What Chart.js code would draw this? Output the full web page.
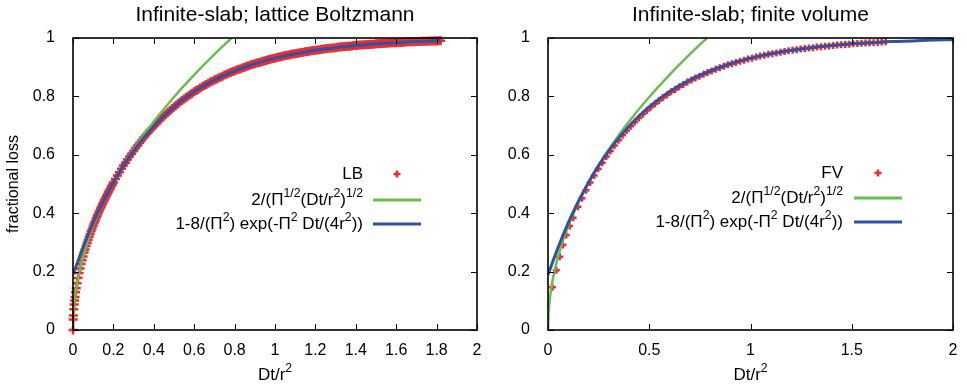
<!DOCTYPE html>
<html>
<head>
<meta charset="utf-8">
<script src="https://cdn.jsdelivr.net/npm/chart.js@4.4.0/dist/chart.umd.min.js"></script>
<style>
html, body { margin: 0; padding: 0; background: #fff; width: 967px; height: 386px; overflow: hidden; }
canvas { position: absolute; top: 0; }
#lbChart { left: 0; }
#fvChart { left: 480px; }
</style>
</head>
<body>
<canvas id="lbChart" width="490" height="386"></canvas>
<canvas id="fvChart" width="487" height="386"></canvas>
<script>
// lattice Boltzmann points (left panel)
const lbT = [0, 0.001, 0.002, 0.004, 0.006, 0.008, 0.01, 0.013, 0.016, 0.02, 0.025, 0.03, 0.035, 0.04,
  0.045, 0.05, 0.055, 0.06, 0.065, 0.07, 0.075, 0.08, 0.085, 0.09, 0.095, 0.10, 0.105, 0.11, 0.115, 0.12,
  0.125, 0.13, 0.135, 0.14, 0.145, 0.15, 0.155, 0.16, 0.165, 0.17, 0.175, 0.18, 0.185, 0.19, 0.195, 0.20,
  0.21, 0.22, 0.23, 0.24, 0.25, 0.26, 0.27, 0.28, 0.29, 0.30,
  0.31, 0.32, 0.33, 0.34, 0.35, 0.36, 0.37, 0.38, 0.39, 0.40, 0.41, 0.42, 0.43, 0.44, 0.45,
  0.46, 0.47, 0.48, 0.49, 0.50, 0.51, 0.52, 0.53, 0.54, 0.55, 0.56, 0.57, 0.58, 0.59, 0.60,
  0.61, 0.62, 0.63, 0.64, 0.65, 0.66, 0.67, 0.68, 0.69, 0.70, 0.71, 0.72, 0.73, 0.74, 0.75,
  0.76, 0.77, 0.78, 0.79, 0.80, 0.81, 0.82, 0.83, 0.84, 0.85, 0.86, 0.87, 0.88, 0.89, 0.90,
  0.91, 0.92, 0.93, 0.94, 0.95, 0.96, 0.97, 0.98, 0.99, 1.00, 1.01, 1.02, 1.03, 1.04, 1.05,
  1.06, 1.07, 1.08, 1.09, 1.10, 1.11, 1.12, 1.13, 1.14, 1.15, 1.16, 1.17, 1.18, 1.19, 1.20,
  1.21, 1.22, 1.23, 1.24, 1.25, 1.26, 1.27, 1.28, 1.29, 1.30, 1.31, 1.32, 1.33, 1.34, 1.35,
  1.36, 1.37, 1.38, 1.39, 1.40, 1.41, 1.42, 1.43, 1.44, 1.45, 1.46, 1.47, 1.48, 1.49, 1.50,
  1.51, 1.52, 1.53, 1.54, 1.55, 1.56, 1.57, 1.58, 1.59, 1.60, 1.61, 1.62, 1.63, 1.64, 1.65,
  1.66, 1.67, 1.68, 1.69, 1.70, 1.71, 1.72, 1.73, 1.74, 1.75, 1.76, 1.77, 1.78, 1.79, 1.80,
  1.81, 1.82];
const lbY = [0, 0.036, 0.050, 0.071, 0.087, 0.101, 0.113, 0.129, 0.143, 0.160, 0.178, 0.195, 0.211, 0.226,
  0.239, 0.252, 0.265, 0.276, 0.288, 0.299, 0.309, 0.319, 0.329, 0.339, 0.348, 0.357, 0.366, 0.374, 0.383, 0.391,
  0.399, 0.407, 0.415, 0.422, 0.430, 0.437, 0.444, 0.451, 0.458, 0.465, 0.472, 0.479, 0.485, 0.492, 0.498, 0.505,
  0.517, 0.529, 0.540, 0.552, 0.563, 0.573, 0.584, 0.594, 0.604, 0.613,
  0.623, 0.632, 0.641, 0.650, 0.658, 0.667, 0.675, 0.683, 0.690, 0.698, 0.705, 0.712, 0.719, 0.726, 0.733,
  0.739, 0.746, 0.752, 0.758, 0.764, 0.770, 0.775, 0.781, 0.786, 0.791, 0.796, 0.801, 0.806, 0.811, 0.816,
  0.820, 0.824, 0.829, 0.833, 0.837, 0.841, 0.845, 0.849, 0.852, 0.856, 0.859, 0.863, 0.866, 0.869, 0.873,
  0.876, 0.879, 0.882, 0.885, 0.887, 0.890, 0.893, 0.895, 0.898, 0.900, 0.903, 0.905, 0.908, 0.910, 0.912,
  0.914, 0.916, 0.918, 0.920, 0.922, 0.924, 0.926, 0.928, 0.930, 0.931, 0.933, 0.935, 0.936, 0.938, 0.939,
  0.941, 0.942, 0.944, 0.945, 0.946, 0.948, 0.949, 0.950, 0.951, 0.953, 0.954, 0.955, 0.956, 0.957, 0.958,
  0.959, 0.960, 0.961, 0.962, 0.963, 0.964, 0.965, 0.966, 0.966, 0.967, 0.968, 0.969, 0.970, 0.970, 0.971,
  0.972, 0.972, 0.973, 0.974, 0.974, 0.975, 0.976, 0.976, 0.977, 0.977, 0.978, 0.978, 0.979, 0.979, 0.980,
  0.980, 0.981, 0.981, 0.982, 0.982, 0.983, 0.983, 0.984, 0.984, 0.984, 0.985, 0.985, 0.985, 0.986, 0.986,
  0.987, 0.987, 0.987, 0.987, 0.988, 0.988, 0.988, 0.989, 0.989, 0.989, 0.989, 0.990, 0.990, 0.990, 0.990,
  0.991, 0.991];

// finite volume points (right panel)
const fvT = [0.022, 0.041, 0.058, 0.074, 0.090, 0.107, 0.124,
  0.148, 0.168, 0.188, 0.208, 0.228, 0.248, 0.268, 0.288, 0.308,
  0.328, 0.348, 0.368, 0.388, 0.408, 0.428, 0.448, 0.468, 0.488, 0.508, 0.528, 0.548, 0.568, 0.588, 0.608,
  0.628, 0.648, 0.668, 0.688, 0.708, 0.728, 0.748, 0.768, 0.788, 0.808, 0.828, 0.848, 0.868, 0.888, 0.908,
  0.928, 0.948, 0.968, 0.988, 1.008, 1.028, 1.048, 1.068, 1.088, 1.108, 1.128, 1.148, 1.168, 1.188, 1.208,
  1.228, 1.248, 1.268, 1.288, 1.308, 1.328, 1.348, 1.368, 1.388, 1.408, 1.428, 1.448, 1.468, 1.488, 1.508,
  1.528, 1.548, 1.568, 1.588, 1.608, 1.628, 1.648, 1.668];
const fvY = [0.146, 0.205, 0.251, 0.291, 0.325, 0.356, 0.384,
  0.422, 0.451, 0.479, 0.505, 0.529, 0.552, 0.573, 0.594, 0.613,
  0.632, 0.650, 0.667, 0.683, 0.698, 0.712, 0.726, 0.739, 0.752, 0.764, 0.775, 0.786, 0.796, 0.806, 0.816,
  0.824, 0.833, 0.841, 0.849, 0.856, 0.863, 0.869, 0.876, 0.882, 0.887, 0.893, 0.898, 0.903, 0.908, 0.912,
  0.916, 0.920, 0.924, 0.928, 0.931, 0.935, 0.938, 0.941, 0.944, 0.946, 0.949, 0.951, 0.954, 0.956, 0.958,
  0.960, 0.962, 0.964, 0.966, 0.967, 0.969, 0.970, 0.972, 0.973, 0.974, 0.976, 0.977, 0.978, 0.979, 0.980,
  0.981, 0.982, 0.983, 0.984, 0.984, 0.985, 0.986, 0.987];

// short-time curve 2/(pi^1/2 (Dt/r^2)^1/2), both panels
const sqT = [0, 0.002, 0.005, 0.01, 0.02, 0.03, 0.05, 0.075, 0.1, 0.15, 0.2, 0.25, 0.3, 0.35, 0.4, 0.5, 0.6, 0.7, 0.785];
const sqY = [0, 0.050, 0.080, 0.113, 0.160, 0.195, 0.252, 0.309, 0.357, 0.437, 0.505, 0.564, 0.618, 0.668, 0.714, 0.798, 0.874, 0.944, 1.0];

// long-time curve 1-8/pi^2 exp(...)
const expLbT = [0, 0.05, 0.1, 0.15, 0.2, 0.25, 0.3, 0.35, 0.4, 0.5, 0.6, 0.7, 0.8, 0.9, 1.0, 1.1, 1.2, 1.3, 1.4, 1.5, 1.6, 1.7, 1.82];
const expLbY = [0.189, 0.283, 0.367, 0.440, 0.505, 0.563, 0.613, 0.658, 0.698, 0.764, 0.816, 0.856, 0.887, 0.912, 0.931, 0.946, 0.958, 0.967, 0.974, 0.980, 0.984, 0.988, 0.991];
const expFvT = [0, 0.05, 0.1, 0.15, 0.2, 0.25, 0.3, 0.35, 0.4, 0.5, 0.6, 0.7, 0.8, 0.9, 1.0, 1.1, 1.2, 1.3, 1.4, 1.5, 1.6, 1.7, 1.8, 1.9, 2.0];
const expFvY = [0.189, 0.283, 0.367, 0.440, 0.505, 0.563, 0.613, 0.658, 0.698, 0.764, 0.816, 0.856, 0.887, 0.912, 0.931, 0.946, 0.958, 0.967, 0.974, 0.980, 0.984, 0.988, 0.990, 0.993, 0.994];

const lbXTicks = [0, 0.2, 0.4, 0.6, 0.8, 1, 1.2, 1.4, 1.6, 1.8, 2];
const fvXTicks = [0, 0.5, 1, 1.5, 2];
const yTicks = [0, 0.2, 0.4, 0.6, 0.8, 1];

const lbTitle = 'Infinite-slab; lattice Boltzmann';
const fvTitle = 'Infinite-slab; finite volume';
const xTitle = 'Dt/r^2';
const yTitle = 'fractional loss';
const lbLegend = ['LB', '2/(Π^{1/2}(Dt/r^2)^{1/2}', '1-8/(Π^2) exp(-Π^2 Dt/(4r^2))'];
const fvLegend = ['FV', '2/(Π^{1/2}(Dt/r^2)^{1/2}', '1-8/(Π^2) exp(-Π^2 Dt/(4r^2))'];

const FONT = "'Liberation Sans', Arial, sans-serif";
const RED = '#ee2a30';
const GREEN = '#6abd4b';
const BLUE = '#2f53a3';

Chart.defaults.font.family = FONT;
Chart.defaults.color = '#000';

function pts(xs, ys) {
    return xs.map((x, i) => ({ x: x, y: ys[i] }));
}

// split "a^{12}b^2" into normal / superscript pieces
function richParts(s) {
    const out = [];
    let buf = '';
    for (let i = 0; i < s.length; i++) {
        if (s[i] === '^') {
            if (buf) out.push({ t: buf, sup: false });
            buf = '';
            if (s[i + 1] === '{') {
                const end = s.indexOf('}', i);
                out.push({ t: s.slice(i + 2, end), sup: true });
                i = end;
            } else {
                out.push({ t: s[i + 1], sup: true });
                i++;
            }
        } else {
            buf += s[i];
        }
    }
    if (buf) out.push({ t: buf, sup: false });
    return out;
}

// align: 'right' -> x is right edge, 'center' -> x is middle
function drawRich(ctx, s, x, y, size, align) {
    const parts = richParts(s);
    let w = 0;
    parts.forEach(p => {
        ctx.font = (p.sup ? size * 0.72 : size) + 'px ' + FONT;
        p.w = ctx.measureText(p.t).width;
        w += p.w;
    });
    let cx = align === 'center' ? x - w / 2 : x - w;
    parts.forEach(p => {
        ctx.font = (p.sup ? size * 0.72 : size) + 'px ' + FONT;
        ctx.fillText(p.t, cx, p.sup ? y - size * 0.4 : y);
        cx += p.w;
    });
}

// gnuplot style frame with inward ticks on all sides
const frameTicks = {
    id: 'frameTicks',
    afterDatasetsDraw(chart) {
        const { ctx, chartArea: a, scales } = chart;
        const tl = 6;
        ctx.save();
        ctx.strokeStyle = '#000';
        ctx.lineWidth = 1;
        ctx.beginPath();
        scales.x.ticks.forEach(t => {
            const px = Math.round(scales.x.getPixelForValue(t.value)) + 0.5;
            ctx.moveTo(px, a.bottom); ctx.lineTo(px, a.bottom - tl);
            ctx.moveTo(px, a.top); ctx.lineTo(px, a.top + tl);
        });
        scales.y.ticks.forEach(t => {
            const py = Math.round(scales.y.getPixelForValue(t.value)) + 0.5;
            ctx.moveTo(a.left, py); ctx.lineTo(a.left + tl, py);
            ctx.moveTo(a.right, py); ctx.lineTo(a.right - tl, py);
        });
        ctx.stroke();
        ctx.lineWidth = 1.6;
        ctx.strokeRect(a.left, a.top, a.right - a.left, a.bottom - a.top);
        ctx.restore();
    }
};

// panel title, x axis title and key, drawn with real superscripts
const panelText = {
    id: 'panelText',
    afterDraw(chart, args, opts) {
        const { ctx, chartArea: a } = chart;
        const mid = (a.left + a.right) / 2;
        ctx.save();
        ctx.fillStyle = '#000';
        ctx.textBaseline = 'middle';
        ctx.textAlign = 'center';
        ctx.font = '21px ' + FONT;
        ctx.fillText(opts.title, mid, 15);

        ctx.textAlign = 'left';
        drawRich(ctx, xTitle, mid, 375, 17, 'center');

        const colors = [RED, GREEN, BLUE];
        opts.labels.forEach((lab, i) => {
            const y = opts.rows[i];
            drawRich(ctx, lab, opts.textRight, y, 17, 'right');
            if (i === 0) {
                const cx = (opts.lineX[0] + opts.lineX[1]) / 2;
                ctx.strokeStyle = RED;
                ctx.lineWidth = 2.5;
                ctx.beginPath();
                ctx.moveTo(cx - 3.5, y); ctx.lineTo(cx + 3.5, y);
                ctx.moveTo(cx, y - 3.5); ctx.lineTo(cx, y + 3.5);
                ctx.stroke();
            } else {
                ctx.strokeStyle = colors[i];
                ctx.lineWidth = 3;
                ctx.beginPath();
                ctx.moveTo(opts.lineX[0], y); ctx.lineTo(opts.lineX[1], y);
                ctx.stroke();
            }
        });
        ctx.restore();
    }
};

function tickText(v) {
    return String(Math.round(v * 100) / 100);
}

function makeChart(id, cfg) {
    return new Chart(document.getElementById(id), {
        type: 'scatter',
        data: {
            datasets: [
                {
                    label: cfg.legend[2],
                    data: pts(cfg.expT, cfg.expY),
                    showLine: true,
                    borderColor: BLUE,
                    borderWidth: 3,
                    pointRadius: 0,
                    cubicInterpolationMode: 'monotone',
                    order: 1
                },
                {
                    label: cfg.legend[1],
                    data: pts(sqT, sqY),
                    showLine: true,
                    borderColor: GREEN,
                    borderWidth: 2.5,
                    pointRadius: 0,
                    cubicInterpolationMode: 'monotone',
                    order: 2
                },
                {
                    label: cfg.legend[0],
                    data: pts(cfg.dataT, cfg.dataY),
                    showLine: false,
                    pointStyle: 'cross',
                    pointRadius: cfg.markR,
                    borderColor: RED,
                    backgroundColor: RED,
                    borderWidth: 2.5,
                    pointBorderWidth: 2.5,
                    clip: false,
                    order: 3
                }
            ]
        },
        options: {
            responsive: false,
            animation: false,
            events: [],
            layout: { padding: { top: 38, right: cfg.padRight, bottom: 0, left: 0 } },
            plugins: {
                legend: { display: false },
                tooltip: { enabled: false },
                panelText: { title: cfg.title, labels: cfg.legend, rows: cfg.rows, textRight: cfg.textRight, lineX: cfg.lineX }
            },
            scales: {
                x: {
                    type: 'linear',
                    min: 0,
                    max: 2,
                    afterBuildTicks: s => { s.ticks = cfg.xTicks.map(v => ({ value: v })); },
                    afterFit: s => { s.height = 56; },
                    grid: { display: false },
                    border: { display: false },
                    ticks: { color: '#000', font: { size: 16 }, padding: 3, maxRotation: 0, autoSkip: false, callback: tickText },
                    title: { display: false }
                },
                y: {
                    type: 'linear',
                    min: 0,
                    max: 1,
                    afterBuildTicks: s => { s.ticks = yTicks.map(v => ({ value: v })); },
                    afterFit: s => { s.width = cfg.yWidth; },
                    grid: { display: false },
                    border: { display: false },
                    ticks: { color: '#000', font: { size: 16 }, padding: 10, callback: tickText },
                    title: { display: cfg.yTitle, text: yTitle, color: '#000', font: { size: 16 }, padding: { top: 4, bottom: 0 } }
                }
            }
        },
        plugins: [frameTicks, panelText]
    });
}

makeChart('lbChart', {
    title: lbTitle, legend: lbLegend,
    dataT: lbT, dataY: lbY, expT: expLbT, expY: expLbY, markR: 4.5,
    xTicks: lbXTicks, yWidth: 73, padRight: 13, yTitle: true,
    rows: [174, 200, 224], textRight: 363, lineX: [373, 421]
});

makeChart('fvChart', {
    title: fvTitle, legend: fvLegend,
    dataT: fvT, dataY: fvY, expT: expFvT, expY: expFvY, markR: 3.5,
    xTicks: fvXTicks, yWidth: 68, padRight: 14, yTitle: false,
    rows: [173, 198, 222], textRight: 363, lineX: [374, 422]
});
</script>
</body>
</html>
